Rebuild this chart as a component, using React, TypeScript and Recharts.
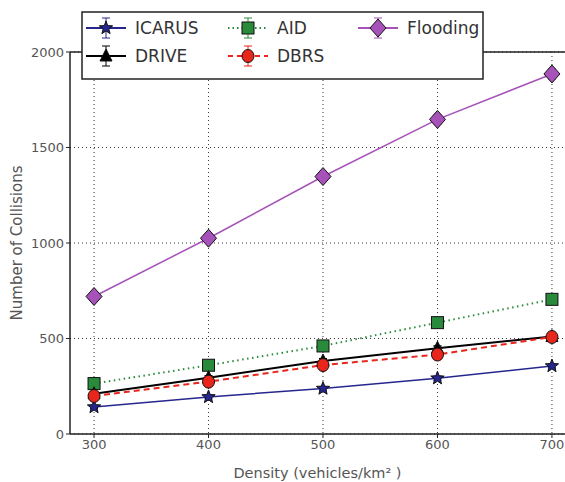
import { LineChart, Line, XAxis, YAxis, CartesianGrid, ErrorBar, ReferenceLine } from "recharts";

const densities = [300, 400, 500, 600, 700];
const icarus = [141, 194, 238, 292, 356];
const drive = [211, 295, 382, 449, 510];
const aid = [264, 360, 461, 583, 705];
const dbrs = [199, 274, 361, 416, 508];
const flooding = [720, 1025, 1348, 1647, 1885];

const icarusErr = [8, 8, 8, 10, 10];
const driveErr = [10, 10, 12, 12, 14];
const aidErr = [10, 12, 12, 14, 14];
const dbrsErr = [10, 12, 12, 14, 14];
const floodingErr = [18, 20, 22, 24, 26];

const yTicks = [0, 500, 1000, 1500, 2000];

const FONT = "'DejaVu Sans', sans-serif";
const TEXT = "#555";

const COLORS = {
  icarus: "#26268f",
  drive: "#000000",
  aid: "#2a8a3c",
  dbrs: "#e8261c",
  flooding: "#a652b8",
};

const data = densities.map((d, i) => ({
  density: d,
  icarus: icarus[i],
  drive: drive[i],
  aid: aid[i],
  dbrs: dbrs[i],
  flooding: flooding[i],
  icarusErr: icarusErr[i],
  driveErr: driveErr[i],
  aidErr: aidErr[i],
  dbrsErr: dbrsErr[i],
  floodingErr: floodingErr[i],
}));

type Shape = "star" | "triangle" | "square" | "circle" | "diamond";

function starPoints(cx: number, cy: number, r: number) {
  const pts: string[] = [];
  for (let i = 0; i < 10; i++) {
    const rad = i % 2 === 0 ? r : r * 0.42;
    const a = -Math.PI / 2 + (i * Math.PI) / 5;
    pts.push(`${cx + rad * Math.cos(a)},${cy + rad * Math.sin(a)}`);
  }
  return pts.join(" ");
}

function Marker({ shape, cx, cy, fill }: { shape: Shape; cx: number; cy: number; fill: string }) {
  const stroke = "#111";
  switch (shape) {
    case "star":
      return <polygon points={starPoints(cx, cy, 7)} fill={fill} stroke={stroke} strokeWidth={1} />;
    case "triangle":
      return <polygon points={`${cx},${cy - 7} ${cx - 6},${cy + 5} ${cx + 6},${cy + 5}`} fill={fill} stroke={stroke} strokeWidth={1} />;
    case "square":
      return <rect x={cx - 6} y={cy - 6} width={12} height={12} fill={fill} stroke={stroke} strokeWidth={1} />;
    case "circle":
      return <ellipse cx={cx} cy={cy} rx={6} ry={6.5} fill={fill} stroke={stroke} strokeWidth={1} />;
    case "diamond":
      return <polygon points={`${cx},${cy - 9} ${cx + 8},${cy} ${cx},${cy + 9} ${cx - 8},${cy}`} fill={fill} stroke={stroke} strokeWidth={1} />;
  }
}

const makeDot = (shape: Shape, fill: string) => (props: any) => {
  const { cx, cy, index } = props;
  if (cx == null || cy == null) return <g key={index} />;
  return <Marker key={index} shape={shape} cx={cx} cy={cy} fill={fill} />;
};

const legendItems = [
  { name: "ICARUS", shape: "star" as Shape, color: COLORS.icarus, fill: COLORS.icarus, dash: undefined, x: 86, y: 28 },
  { name: "DRIVE", shape: "triangle" as Shape, color: COLORS.drive, fill: "#000", dash: undefined, x: 86, y: 56 },
  { name: "AID", shape: "square" as Shape, color: COLORS.aid, fill: COLORS.aid, dash: "1.5 3", x: 228, y: 28 },
  { name: "DBRS", shape: "circle" as Shape, color: COLORS.dbrs, fill: COLORS.dbrs, dash: "5 4", x: 228, y: 56 },
  { name: "Flooding", shape: "diamond" as Shape, color: COLORS.flooding, fill: COLORS.flooding, dash: undefined, x: 358, y: 28 },
];

function LegendBox() {
  return (
    <svg width={565} height={90} style={{ position: "absolute", left: 0, top: 0, pointerEvents: "none" }}>
      <rect x={82} y={12} width={401} height={67} fill="#fff" stroke="#222" strokeWidth={1.5} />
      {legendItems.map((it) => (
        <g key={it.name}>
          <line x1={it.x} y1={it.y} x2={it.x + 40} y2={it.y} stroke={it.color} strokeWidth={2} strokeDasharray={it.dash} />
          <line x1={it.x + 20} y1={it.y - 10} x2={it.x + 20} y2={it.y + 10} stroke={it.color} strokeWidth={1} />
          <line x1={it.x + 16} y1={it.y - 10} x2={it.x + 24} y2={it.y - 10} stroke={it.color} strokeWidth={1} />
          <line x1={it.x + 16} y1={it.y + 10} x2={it.x + 24} y2={it.y + 10} stroke={it.color} strokeWidth={1} />
          <Marker shape={it.shape} cx={it.x + 20} cy={it.y} fill={it.fill} />
          <text x={it.x + 49} y={it.y + 6} fontFamily={FONT} fontSize={17} fill="#333">
            {it.name}
          </text>
        </g>
      ))}
    </svg>
  );
}

const tickStyle = { fontFamily: FONT, fontSize: 13, fill: TEXT };

export default function App() {
  return (
    <div style={{ position: "absolute", left: 0, top: 0, width: 565, height: 482, background: "#fff" }}>
      <LineChart width={565} height={482} data={data} margin={{ top: 52, right: 0, left: 0, bottom: 0 }}>
        <CartesianGrid stroke="#333" strokeDasharray="1 3" strokeWidth={1} horizontalValues={yTicks} verticalValues={densities} />
        <XAxis
          dataKey="density"
          type="number"
          domain={[279, 711.4]}
          ticks={densities}
          allowDataOverflow
          height={48}
          tick={tickStyle}
          tickLine={{ stroke: "#222" }}
          tickSize={4}
          axisLine={{ stroke: "#222", strokeWidth: 1.5 }}
          label={{ value: "Density (vehicles/km² )", position: "insideBottom", offset: 4, style: { fontFamily: FONT, fontSize: 14.5, fill: TEXT } }}
        />
        <YAxis
          type="number"
          domain={[0, 2000]}
          ticks={yTicks}
          width={70}
          tick={tickStyle}
          tickLine={{ stroke: "#222" }}
          tickSize={4}
          axisLine={{ stroke: "#222", strokeWidth: 1.5 }}
          label={{ value: "Number of Collisions", angle: -90, position: "insideLeft", offset: 17, style: { fontFamily: FONT, fontSize: 15, fill: TEXT, textAnchor: "middle" } }}
        />
        <ReferenceLine y={2000} stroke="#222" strokeWidth={1.5} ifOverflow="extendDomain" />
        <Line dataKey="icarus" stroke={COLORS.icarus} strokeWidth={1.5} dot={makeDot("star", COLORS.icarus)} isAnimationActive={false}>
          <ErrorBar dataKey="icarusErr" stroke={COLORS.icarus} width={4} direction="y" />
        </Line>
        <Line dataKey="aid" stroke={COLORS.aid} strokeWidth={2} strokeDasharray="1.5 3.5" dot={makeDot("square", COLORS.aid)} isAnimationActive={false}>
          <ErrorBar dataKey="aidErr" stroke={COLORS.aid} width={4} direction="y" />
        </Line>
        <Line dataKey="drive" stroke={COLORS.drive} strokeWidth={2} dot={makeDot("triangle", "#000")} isAnimationActive={false}>
          <ErrorBar dataKey="driveErr" stroke={COLORS.drive} width={4} direction="y" />
        </Line>
        <Line dataKey="dbrs" stroke={COLORS.dbrs} strokeWidth={2} strokeDasharray="6 4" dot={makeDot("circle", COLORS.dbrs)} isAnimationActive={false}>
          <ErrorBar dataKey="dbrsErr" stroke={COLORS.dbrs} width={4} direction="y" />
        </Line>
        <Line dataKey="flooding" stroke={COLORS.flooding} strokeWidth={1.5} dot={makeDot("diamond", COLORS.flooding)} isAnimationActive={false}>
          <ErrorBar dataKey="floodingErr" stroke={COLORS.flooding} width={4} direction="y" />
        </Line>
      </LineChart>
      <LegendBox />
    </div>
  );
}
